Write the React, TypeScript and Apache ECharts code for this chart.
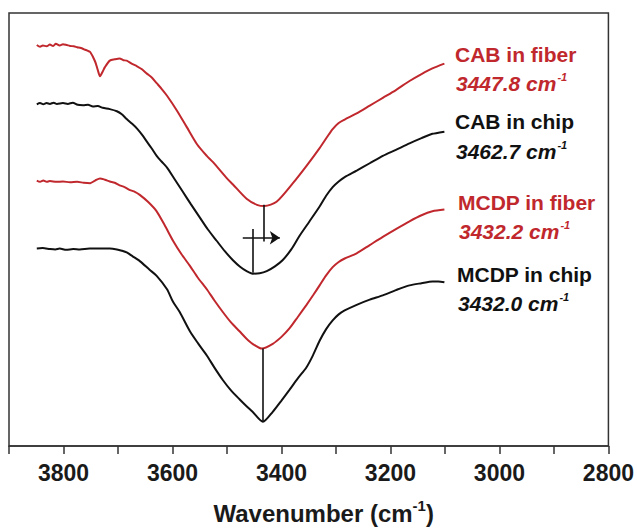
import React, { useEffect, useRef } from "react";
import * as echarts from "echarts";

const RED = "#c0282d";
const BLACK = "#111111";
const FONT = "'Liberation Sans', Arial, Helvetica, sans-serif";

// Wavenumber axis ticks (cm-1)
const xMin = 2800;
const xMax = 3900;
const xStep = 100;

// Spectra: [wavenumber, transmittance (a.u., offset)]
const cabFiber: [number, number][] = [
  [3849, 92.6], [3843, 92.2], [3838, 92.5], [3831, 92.3], [3825, 92.7], [3819, 92.4], [3814, 92.9],
  [3807, 92.5], [3801, 92.8], [3794, 92.6], [3788, 92.4], [3781, 92.3], [3775, 92.1], [3768, 91.9],
  [3762, 91.6], [3756, 91.3], [3751, 91.0], [3742, 88.8], [3737, 86.8], [3733, 85.4], [3728, 86.5],
  [3724, 87.5], [3715, 89.0], [3706, 89.3], [3697, 89.5], [3690, 89.1], [3684, 89.0], [3675, 88.3],
  [3665, 87.7], [3656, 87.0], [3647, 86.0], [3638, 85.1], [3629, 83.8], [3620, 82.5], [3610, 80.9],
  [3592, 77.5], [3574, 73.7], [3555, 69.7], [3537, 67.0], [3526, 65.6], [3500, 61.8], [3489, 60.4],
  [3464, 57.1], [3445, 55.7], [3431, 55.4], [3409, 56.4], [3379, 60.7], [3354, 64.7], [3330, 68.8],
  [3315, 71.6], [3306, 73.2], [3295, 74.6], [3284, 75.4], [3262, 76.8], [3238, 78.6], [3214, 80.4],
  [3190, 82.2], [3165, 84.3], [3143, 85.9], [3123, 87.2], [3101, 88.3],
];

const cabChip: [number, number][] = [
  [3849, 78.9], [3843, 79.2], [3837, 78.9], [3831, 79.2], [3825, 79.0], [3818, 79.3], [3812, 79.0],
  [3801, 79.2], [3792, 79.0], [3783, 79.3], [3774, 78.8], [3764, 78.7], [3755, 78.8], [3746, 78.4],
  [3737, 78.5], [3728, 78.1], [3715, 77.8], [3702, 77.3], [3693, 76.6], [3684, 75.5], [3674, 74.4],
  [3665, 73.3], [3656, 71.9], [3647, 70.3], [3638, 68.7], [3629, 67.0], [3620, 65.7], [3610, 64.3],
  [3596, 61.6], [3581, 58.7], [3566, 55.8], [3550, 52.8], [3535, 50.0], [3519, 47.4], [3504, 45.0],
  [3489, 42.9], [3476, 41.4], [3464, 40.4], [3453, 39.8], [3440, 39.9], [3427, 40.4], [3412, 41.5],
  [3398, 42.9], [3382, 45.4], [3367, 48.5], [3349, 51.8], [3330, 55.3], [3318, 57.8], [3306, 59.8],
  [3295, 61.1], [3284, 62.1], [3262, 63.6], [3238, 65.3], [3214, 67.0], [3190, 68.4], [3165, 69.9],
  [3143, 71.1], [3123, 72.1], [3101, 72.6],
];

const mcdpFiber: [number, number][] = [
  [3849, 61.3], [3843, 61.0], [3837, 61.3], [3831, 61.0], [3825, 61.2], [3813, 61.0], [3801, 61.1],
  [3788, 60.9], [3775, 61.0], [3763, 60.8], [3751, 60.7], [3742, 61.3], [3733, 61.8], [3724, 61.5],
  [3715, 61.1], [3706, 60.8], [3697, 60.2], [3688, 59.8], [3678, 59.1], [3669, 58.7], [3660, 58.0],
  [3645, 56.4], [3629, 54.2], [3614, 50.9], [3599, 47.4], [3584, 44.4], [3568, 41.6], [3553, 38.8],
  [3537, 36.2], [3523, 33.6], [3508, 31.0], [3493, 28.6], [3477, 26.5], [3465, 24.9], [3453, 23.6],
  [3436, 22.5], [3416, 23.6], [3400, 25.2], [3385, 27.2], [3370, 29.8], [3354, 32.6], [3342, 34.8],
  [3330, 37.1], [3318, 39.4], [3306, 41.3], [3295, 42.5], [3284, 43.3], [3262, 44.5], [3238, 46.4],
  [3214, 48.3], [3190, 50.1], [3165, 51.9], [3143, 53.3], [3123, 54.2], [3101, 54.6],
];

const mcdpChip: [number, number][] = [
  [3849, 45.6], [3838, 45.7], [3825, 45.5], [3815, 45.4], [3807, 45.6], [3795, 45.3], [3782, 45.5],
  [3770, 45.4], [3752, 45.6], [3733, 45.6], [3715, 45.6], [3702, 45.4], [3693, 45.1], [3684, 44.7],
  [3673, 43.8], [3660, 42.7], [3642, 40.7], [3629, 39.3], [3610, 36.2], [3599, 33.3], [3587, 31.0],
  [3568, 26.5], [3553, 23.7], [3537, 20.9], [3523, 18.1], [3508, 15.3], [3493, 12.9], [3477, 10.8],
  [3465, 9.3], [3453, 7.9], [3434, 5.6], [3416, 7.9], [3400, 10.5], [3385, 13.0], [3370, 15.6],
  [3354, 18.2], [3342, 21.0], [3330, 24.3], [3318, 27.0], [3306, 29.0], [3295, 30.4], [3284, 31.3],
  [3262, 32.6], [3238, 33.8], [3214, 34.8], [3190, 36.0], [3165, 37.1], [3143, 37.6], [3123, 38.0],
  [3112, 38.0], [3101, 37.8],
];

// Peak markers and shift arrow: [wavenumber, value]
const cabFiberMark: [number, number][] = [[3432.5, 55.7], [3432.5, 47.2]];
const cabChipMark: [number, number][] = [[3452.7, 50.1], [3452.7, 40.0]];
const mcdpMark: [number, number][] = [[3434, 22.5], [3434, 5.6]];
const shiftArrow: [number, number][] = [[3471, 48.1], [3403, 48.1]];

// Labels
const labelNames = ["CAB in fiber", "CAB in chip", "MCDP in fiber", "MCDP in chip"];
const labelPeaks = ["3447.8", "3462.7", "3432.2", "3432.0"];
const labelColors = [RED, BLACK, RED, BLACK];

export default function App() {
  const ref = useRef<HTMLDivElement>(null);

  useEffect(() => {
    if (!ref.current) return;
    const chart = echarts.init(ref.current, undefined, { renderer: "svg" });

    const seg = (a: [number, number], b: [number, number], endSymbol = "none") => [
      { coord: a, symbol: "none" },
      { coord: b, symbol: endSymbol },
    ];

    const lineSeries = (name: string, data: [number, number][], color: string, marks?: any[]) => ({
      name,
      type: "line",
      data,
      showSymbol: false,
      symbol: "none",
      smooth: 0.25,
      silent: true,
      lineStyle: { color, width: 2 },
      itemStyle: { color },
      markLine: marks
        ? {
            silent: true,
            symbol: ["none", "none"],
            symbolSize: 10,
            label: { show: false },
            lineStyle: { color: BLACK, width: 1.6, type: "solid" },
            emphasis: { disabled: true },
            data: marks,
          }
        : undefined,
    });

    const labelX = [455, 455, 458, 457];
    const nameY = [54, 121, 202, 274];
    const peakY = [83, 151, 231, 303];

    const graphics: any[] = [];
    labelNames.forEach((n, i) => {
      graphics.push({
        type: "text",
        x: labelX[i],
        y: nameY[i],
        silent: true,
        style: {
          text: n,
          fill: labelColors[i],
          fontFamily: FONT,
          fontWeight: "bold",
          fontSize: 21,
          verticalAlign: "middle",
        },
      });
      graphics.push({
        type: "text",
        x: labelX[i] + 1,
        y: peakY[i],
        silent: true,
        style: {
          text: `{n|${labelPeaks[i]} cm}{s|-1}`,
          fill: labelColors[i],
          verticalAlign: "middle",
          rich: {
            n: {
              fill: labelColors[i],
              fontFamily: FONT,
              fontWeight: "bold",
              fontStyle: "italic",
              fontSize: 21,
            },
            s: {
              fill: labelColors[i],
              fontFamily: FONT,
              fontWeight: "bold",
              fontStyle: "italic",
              fontSize: 11,
              padding: [0, 0, 13, 1],
            },
          },
        },
      });
    });

    chart.setOption({
      animation: false,
      backgroundColor: "#ffffff",
      grid: {
        left: 9,
        right: 28,
        top: 13,
        bottom: 72,
        show: true,
        borderColor: "#333333",
        borderWidth: 1.5,
        backgroundColor: "transparent",
      },
      xAxis: {
        type: "value",
        inverse: true,
        min: xMin,
        max: xMax,
        interval: xStep,
        name: "{a|Wavenumber (cm}{s|-1}{a|)}",
        nameLocation: "middle",
        nameGap: 52,
        nameTextStyle: {
          padding: [0, 0, 0, 30],
          rich: {
            a: { fontFamily: FONT, fontWeight: "bold", fontSize: 24, color: "#1a1a1a" },
            s: {
              fontFamily: FONT,
              fontWeight: "bold",
              fontSize: 15,
              color: "#1a1a1a",
              padding: [0, 0, 15, 0],
            },
          },
        },
        axisLine: { show: true, onZero: false, lineStyle: { color: "#333333", width: 1.5 } },
        axisTick: { show: true, inside: false, length: 8, lineStyle: { color: "#333333", width: 1.5 } },
        splitLine: { show: false },
        axisLabel: {
          show: true,
          margin: 15,
          showMinLabel: true,
          showMaxLabel: true,
          fontFamily: FONT,
          fontWeight: "bold",
          fontSize: 23,
          color: "#1a1a1a",
          formatter: (v: number) => (Math.round(v) % 200 === 0 ? String(Math.round(v)) : ""),
        },
      },
      yAxis: {
        type: "value",
        min: 0,
        max: 100,
        show: false,
        splitLine: { show: false },
      },
      series: [
        lineSeries("CAB in fiber", cabFiber, RED, [
          seg(cabFiberMark[0], cabFiberMark[1]),
          seg(shiftArrow[0], shiftArrow[1], "arrow"),
        ]),
        lineSeries("CAB in chip", cabChip, BLACK, [seg(cabChipMark[0], cabChipMark[1])]),
        lineSeries("MCDP in fiber", mcdpFiber, RED, [seg(mcdpMark[0], mcdpMark[1])]),
        lineSeries("MCDP in chip", mcdpChip, BLACK),
      ],
      graphic: graphics,
    });

    return () => chart.dispose();
  }, []);

  return (
    <div
      ref={ref}
      style={{ position: "fixed", left: 0, top: 0, width: 637, height: 530, background: "#fff" }}
    />
  );
}
